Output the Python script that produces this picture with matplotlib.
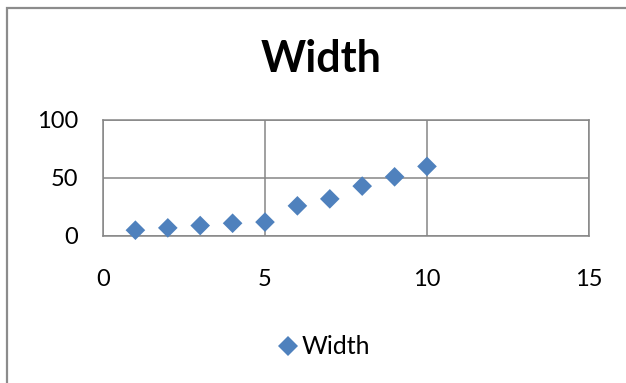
import matplotlib
matplotlib.use("Agg")
import matplotlib.pyplot as plt
from matplotlib.lines import Line2D
from matplotlib.patches import Rectangle

plt.rcParams["font.family"] = ["Lato", "DejaVu Sans"]

# data
x_vals = [1, 2, 3, 4, 5, 6, 7, 8, 9, 10]
width_vals = [5, 7, 9, 11, 12, 26, 32, 43, 51, 60]
x_ticks = [0, 5, 10, 15]
y_ticks = [0, 50, 100]

BLUE = "#4F81BD"
GRID = "#868686"

fig = plt.figure(figsize=(6.26, 3.83), dpi=100)

# chart-area frame (only top and left edges fall inside the image)
fig.add_artist(Rectangle((7 / 626, -0.1), 1.2, (383 - 8) / 383 + 0.1,
                         transform=fig.transFigure, fill=False,
                         edgecolor="#8c8c8c", linewidth=1.6))

ax = fig.add_axes([103 / 626, 1 - 236 / 383, 486 / 626, 116 / 383])
ax.scatter(x_vals, width_vals, marker="D", s=10 ** 2, color=BLUE,
           edgecolors="none", zorder=3, clip_on=False)

ax.set_xlim(0, 15)
ax.set_ylim(0, 100)
ax.set_xticks(x_ticks)
ax.set_yticks(y_ticks)
ax.tick_params(length=0, labelsize=17, colors="black")
ax.tick_params(axis="x", pad=24)
ax.tick_params(axis="y", pad=18)
ax.grid(True, color=GRID, linewidth=1.1)
ax.set_axisbelow(True)
for s in ax.spines.values():
    s.set_color(GRID)
    s.set_linewidth(1.1)

fig.text(321 / 626, 1 - 59 / 383, "Width", ha="center", va="center",
         fontsize=31, fontweight="bold")

handle = Line2D([], [], marker="D", linestyle="none", color=BLUE,
                markersize=10, markeredgewidth=0)
fig.legend([handle], ["Width"], loc="center", bbox_to_anchor=(323 / 626, 1 - 347 / 383),
           frameon=False, fontsize=18, handletextpad=0.05, handlelength=1.0)

fig.savefig("out.png", dpi=100)
